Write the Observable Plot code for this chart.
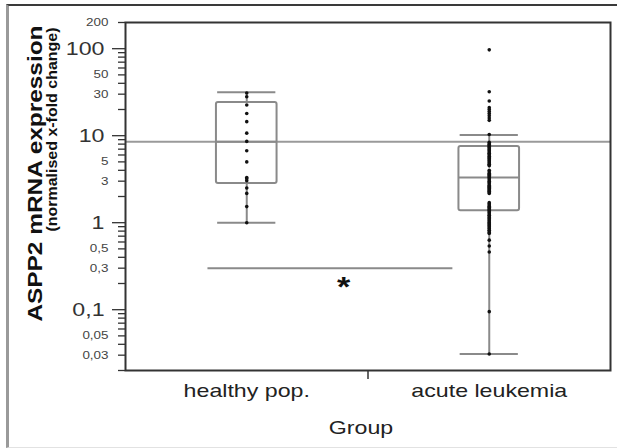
<!DOCTYPE html>
<html><head><meta charset="utf-8">
<script src="https://cdn.jsdelivr.net/npm/d3@7"></script>
<script src="https://cdn.jsdelivr.net/npm/@observablehq/plot@0.6"></script>
<style>
body{margin:0;background:#fff;font-family:"Liberation Sans",Arial,sans-serif;}
#wrap{position:relative;width:617px;height:448px;overflow:hidden;}
#border{position:absolute;left:6px;top:4px;width:640px;height:441px;border-left:3px solid #9a9a9a;border-top:2px solid #3a3a3a;border-bottom:1px solid #e2e2e2;}
#chart{position:absolute;left:0;top:0;}
</style></head><body>
<div id="wrap"><div id="border"></div><div id="chart"></div></div>
<script>
// ---- data ----
const groups = ["healthy pop.", "acute leukemia"];
const groupPos = [0.5, 1.5];
const healthyValues = [31, 28, 22.5, 18, 14.5, 10.7, 8.6, 6.7, 5.0, 3.3, 3.2, 3.04, 2.5, 2.17, 1.53, 1.0];
const leukemiaValues = [97, 32, 25, 21, 20, 19, 18, 17, 16, 15, 10.3,
  8.4, 8.1, 7.9, 7.7, 7.5, 7.3, 7.1, 6.9, 6.7, 6.5, 6.3, 6.15, 6.0, 5.8, 5.6, 5.45, 5.3, 5.15, 5.0, 4.85, 4.7, 4.6, 4.5,
  4.0, 3.85, 3.7, 3.6, 3.5, 3.4, 3.3, 3.2, 3.1, 3.0, 2.9, 2.8, 2.7, 2.62, 2.55, 2.48, 2.4, 2.35, 2.3, 2.23, 2.17,
  1.7, 1.65, 1.6, 1.55, 1.5, 1.46, 1.42, 1.38, 1.34, 1.3, 1.26, 1.22, 1.19, 1.15, 1.12, 1.08, 1.05, 1.02, 1.0,
  0.97, 0.95, 0.92, 0.9, 0.87, 0.85, 0.82, 0.8, 0.77, 0.75,
  0.63, 0.54, 0.46, 0.095, 0.031];
const boxLow = [1.0, 0.031];
const boxQ1 = [2.83, 1.37];
const boxMedian = [8.5, 3.3];
const boxQ3 = [24.1, 7.5];
const boxHigh = [31.5, 10.2];
const cutoff = [8.5];
const majorTicks = [0.1, 1, 10, 100];
const majorLabels = ["0,1", "1", "10", "100"];
const minorLabeledTicks = [0.03, 0.05, 0.3, 0.5, 3, 5, 30, 50, 200];
const minorLabels = ["0,03", "0,05", "0,3", "0,5", "3", "5", "30", "50", "200"];
const yTitle = "ASPP2 mRNA expression";
const ySubtitle = "(normalised x-fold change)";
const xTitle = "Group";
const sigBar = [{x1: 0.34, x2: 1.35, y: 0.3}];
const sigMark = [{x: 0.9, y: 0.145, text: "*"}];

// ---- derived tables ----
const idx = groups.map((g, i) => i);
const points = [
  ...healthyValues.map(v => ({x: groupPos[0], y: v})),
  ...leukemiaValues.map(v => ({x: groupPos[1], y: v}))
];
const minorAll = [];
for (const d of [0.01, 0.1, 1, 10, 100]) for (let k = 2; k <= 9; k++) {
  const v = +(k * d).toPrecision(3);
  if (v >= 0.02 && v <= 200) minorAll.push(v);
}

const boxStroke = "#8a8a8a";
const hw = 0.125, cw = 0.12;

const plot = Plot.plot({
  width: 617, height: 448,
  marginLeft: 125, marginRight: 7, marginTop: 22, marginBottom: 78,
  style: {fontFamily: "'Liberation Sans', Arial, sans-serif", background: "transparent", color: "#222"},
  x: {type: "linear", domain: [0, 2], axis: null},
  y: {type: "log", domain: [0.02, 200], axis: null},
  marks: [
    Plot.ruleY(cutoff, {stroke: "#9a9a9a", strokeWidth: 2}),
    Plot.ruleY(sigBar, {y: "y", x1: "x1", x2: "x2", stroke: "#8a8a8a", strokeWidth: 2}),
    Plot.rect(idx, {x1: i => groupPos[i] - hw, x2: i => groupPos[i] + hw, y1: i => boxQ1[i], y2: i => boxQ3[i],
      fill: "none", stroke: boxStroke, strokeWidth: 2, rx: 2}),
    Plot.ruleY(idx, {y: i => boxMedian[i], x1: i => groupPos[i] - hw, x2: i => groupPos[i] + hw, stroke: boxStroke, strokeWidth: 2}),
    Plot.ruleX(idx, {x: i => groupPos[i], y1: i => boxQ3[i], y2: i => boxHigh[i], stroke: boxStroke, strokeWidth: 2}),
    Plot.ruleX(idx, {x: i => groupPos[i], y1: i => boxLow[i], y2: i => boxQ1[i], stroke: boxStroke, strokeWidth: 2}),
    Plot.ruleY(idx, {y: i => boxHigh[i], x1: i => groupPos[i] - cw, x2: i => groupPos[i] + cw, stroke: boxStroke, strokeWidth: 2}),
    Plot.ruleY(idx, {y: i => boxLow[i], x1: i => groupPos[i] - cw, x2: i => groupPos[i] + cw, stroke: boxStroke, strokeWidth: 2}),
    Plot.dot(points, {x: "x", y: "y", r: 1.8, fill: "#111", stroke: null}),
    Plot.frame({stroke: "#333", strokeWidth: 2}),
    Plot.axisY({ticks: minorAll, tickSize: 7, tickFormat: () => "", label: null, stroke: "#333", strokeWidth: 1.3}),
    Plot.axisY({ticks: majorTicks, tickSize: 13, tickFormat: () => "", label: null, stroke: "#333", strokeWidth: 1.3}),
    Plot.text(majorTicks, {y: d => d, text: (d, i) => majorLabels[i], frameAnchor: "left", dx: -21, textAnchor: "end",
      fontSize: 19, fill: "#333"}),
    Plot.text(minorLabeledTicks, {y: d => d, text: (d, i) => minorLabels[i], frameAnchor: "left", dx: -17, textAnchor: "end",
      fontSize: 11, fill: "#444"}),
    Plot.axisX({ticks: [1], tickSize: 9, tickFormat: () => "", label: null, stroke: "#333", strokeWidth: 1.5}),
    Plot.text(groups, {x: (d, i) => groupPos[i], frameAnchor: "bottom", dy: 26, lineAnchor: "bottom", fontSize: 19, fill: "#222"}),
    Plot.text([xTitle], {frameAnchor: "bottom", dx: -7, dy: 63, lineAnchor: "bottom", fontSize: 19, fill: "#222"}),
    Plot.text([yTitle], {frameAnchor: "top-left", rotate: -90, textAnchor: "end", lineAnchor: "bottom",
      dx: -84, dy: 3, fontSize: 20, fontWeight: "bold", fill: "#111"}),
    Plot.text([ySubtitle], {frameAnchor: "top-left", rotate: -90, textAnchor: "end", lineAnchor: "bottom",
      dx: -69, dy: 5, fontSize: 14, fontWeight: "bold", fill: "#111"}),
    Plot.text(sigMark, {x: "x", y: "y", text: "text", fontSize: 28, fontWeight: "bold", lineAnchor: "bottom", fill: "#111"})
  ]
});
document.getElementById("chart").appendChild(plot);
// the reference glyphs are wider than Liberation Sans: stretch each text along its baseline
plot.querySelectorAll("text").forEach(t => {
  const L = t.getComputedTextLength();
  const f = t.textContent === ySubtitle ? 1.14 : 1.22;
  if (L > 0) { t.setAttribute("textLength", (L * f).toFixed(1)); t.setAttribute("lengthAdjust", "spacingAndGlyphs"); }
});
</script>
</body></html>
